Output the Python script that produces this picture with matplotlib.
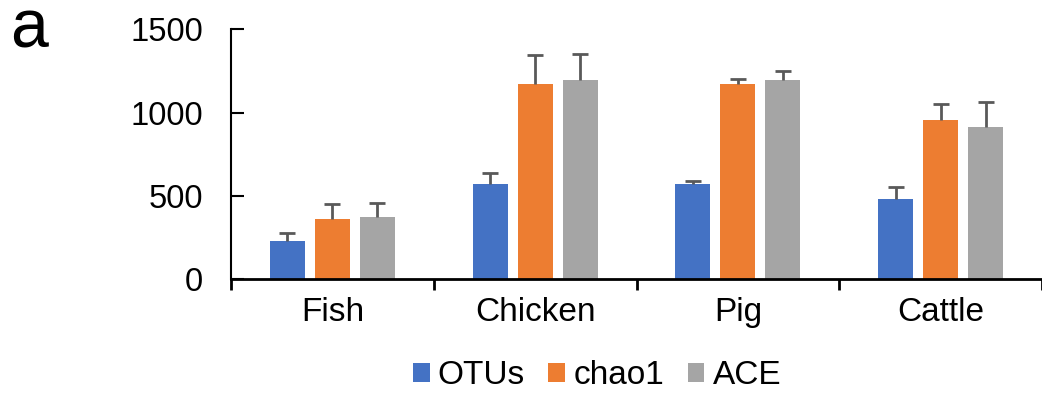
import matplotlib.pyplot as plt
import numpy as np

plt.rcParams['font.family'] = ['Liberation Sans', 'DejaVu Sans']

categories = ['Fish', 'Chicken', 'Pig', 'Cattle']
series = ['OTUs', 'chao1', 'ACE']
otus = [228, 570, 570, 478]
otus_err = [50, 66, 20, 74]
chao1 = [362, 1174, 1172, 954]
chao1_err = [88, 170, 32, 98]
ace = [374, 1194, 1194, 910]
ace_err = [84, 160, 54, 156]
colors = ['#4472C4', '#ED7D31', '#A5A5A5']

fig = plt.figure(figsize=(10.42, 3.93), dpi=100)
ax = fig.add_axes([0.2217, 0.29, 0.7783, 0.6356])

x = np.arange(len(categories))
w = 0.172
step = 0.222
for i, (vals, errs) in enumerate([(otus, otus_err), (chao1, chao1_err), (ace, ace_err)]):
    bars = ax.bar(x + (i - 1) * step, vals, w, color=colors[i], label=series[i],
                  yerr=[np.zeros(len(errs)), errs],
                  error_kw=dict(ecolor='#595959', elinewidth=2, capsize=6, capthick=2),
                  zorder=2)
    # only the upper cap, like the original
    bars.errorbar.lines[1][0].set_visible(False)

ax.set_xlim(-0.5, 3.5)
ax.set_ylim(0, 1500)
ax.set_yticks([0, 500, 1000, 1500])
ax.set_xticks(x)
ax.set_xticklabels(categories)
ax.set_xticks(np.arange(-0.5, 4, 1), minor=True)

for s in ['top', 'right']:
    ax.spines[s].set_visible(False)
ax.spines['left'].set_linewidth(1.5)
ax.spines['bottom'].set_linewidth(2)

ax.tick_params(axis='y', direction='in', length=9, width=1.5, labelsize=23.5, pad=20)
ax.tick_params(axis='x', which='major', length=0, labelsize=24, pad=13)
ax.tick_params(axis='x', which='minor', direction='out', length=8, width=2)

ax.legend(loc='center', bbox_to_anchor=(597 / 1042, 1 - 376 / 393),
          bbox_transform=fig.transFigure, ncol=3, frameon=False, fontsize=24,
          handlelength=0.5, handleheight=0.5, handletextpad=0.25,
          columnspacing=0.7, borderpad=0, borderaxespad=0)

fig.text(10 / 1042, 1 - 30 / 393, 'a', fontsize=49, va='center', ha='left')

fig.savefig('out.png', dpi=100)
